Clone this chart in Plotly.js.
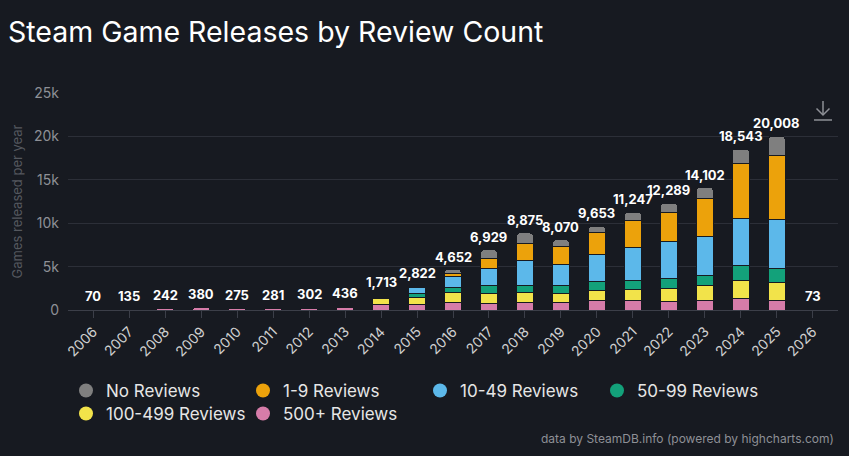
<!DOCTYPE html>
<html>
<head>
<meta charset="utf-8">
<script src="https://cdn.plot.ly/plotly-3.0.1.min.js"></script>
<style>html,body{margin:0;padding:0;background:#171a21;}#chart{width:849px;height:456px;}</style>
</head>
<body>
<div id="chart"></div>
<script>
const years = ["2006","2007","2008","2009","2010","2011","2012","2013","2014","2015","2016","2017","2018","2019","2020","2021","2022","2023","2024","2025","2026"];
const totals = [70,135,242,380,275,281,302,436,1713,2822,4652,6929,8875,8070,9653,11247,12289,14102,18543,20008,73];
const reviews500plus = [45,90,160,250,180,185,195,270,650,680,820,800,840,840,1100,1050,1000,1040,1270,1150,20];
const reviews100to499 = [15,28,50,80,58,58,64,95,620,800,1180,1150,1120,1040,1130,1260,1460,1760,2110,2040,10];
const reviews50to99 = [4,8,14,22,16,17,19,30,170,450,620,900,890,890,1000,1050,1150,1160,1690,1620,8];
const reviews10to49 = [4,6,12,18,14,14,16,28,150,620,1220,1950,2880,2500,3110,3850,4270,4500,5510,5650,15];
const reviews1to9 = [1,2,4,6,4,4,5,8,70,170,400,1100,1880,2030,2580,3150,3390,4340,6260,7340,15];
const noReviews = [1,1,2,4,3,3,3,5,53,102,412,1029,1265,770,733,887,1019,1302,1703,2208,5];
const yTickVals = [0,5000,10000,15000,20000,25000];
const yTickText = ["0","5k","10k","15k","20k","25k"];

const series = [
  {name:"500+ Reviews", data:reviews500plus, color:"#d67ca9", legend:"legend2"},
  {name:"100-499 Reviews", data:reviews100to499, color:"#f2e34a", legend:"legend2"},
  {name:"50-99 Reviews", data:reviews50to99, color:"#13a17a", legend:"legend"},
  {name:"10-49 Reviews", data:reviews10to49, color:"#5cb8ea", legend:"legend"},
  {name:"1-9 Reviews", data:reviews1to9, color:"#eca20b", legend:"legend"},
  {name:"No Reviews", data:noReviews, color:"#7f7f7f", legend:"legend"}
];
const BG = "#171a21";
const FONT = "Inter, 'DejaVu Sans', sans-serif";

const traces = series.map(s => ({
  type:"bar", x:years, y:s.data, name:s.name, showlegend:false,
  marker:{color:s.color, line:{color:BG, width:1}},
  hoverinfo:"x+y+name"
}));
// legend entries (circle symbols), ordered as in the reference
const legendOrder = ["No Reviews","1-9 Reviews","10-49 Reviews","50-99 Reviews","100-499 Reviews","500+ Reviews"];
legendOrder.forEach(n => {
  const s = series.find(q => q.name === n);
  traces.push({type:"scatter", mode:"markers", x:[null], y:[null], name:n, legend:s.legend,
    marker:{color:s.color, size:14, symbol:"circle"}, showlegend:true, hoverinfo:"skip"});
});

const annotations = years.map((yr,i) => ({
  x:i, y:totals[i], xref:"x", yref:"y", text:"<b>"+totals[i].toLocaleString("en-US")+"</b>",
  showarrow:false, yanchor:"bottom", yshift:3,
  font:{family:FONT, size:13, color:"#ffffff"}
}));
annotations.push({
  xref:"paper", yref:"paper", x:0.9974, y:-0.59, xanchor:"right", yanchor:"middle",
  text:"data by SteamDB.info (powered by highcharts.com)", showarrow:false,
  font:{family:FONT, size:12, color:"#8e9096"}
});

const px = v => (v-68)/770, py = v => (310-v)/217;
const iconColor = "#8e9096";
const shapes = [
  {type:"line", xref:"paper", yref:"paper", x0:px(823), x1:px(823), y0:py(101), y1:py(115), line:{color:iconColor, width:1.5}},
  {type:"path", xref:"paper", yref:"paper", path:`M ${px(816.5)} ${py(108.5)} L ${px(823)} ${py(115)} L ${px(829.5)} ${py(108.5)}`, line:{color:iconColor, width:1.5}},
  {type:"line", xref:"paper", yref:"paper", x0:px(814), x1:px(832), y0:py(120), y1:py(120), line:{color:iconColor, width:1.5}}
];

const legendCommon = {orientation:"h", xref:"container", yref:"container", xanchor:"left", yanchor:"middle",
  traceorder:"normal",
  bgcolor:"rgba(0,0,0,0)", font:{family:FONT, size:17, color:"#e6e6e6"},
  entrywidth:132, entrywidthmode:"pixels", itemwidth:30, tracegroupgap:0, itemclick:false, itemdoubleclick:false};

const layout = {
  width:849, height:456,
  paper_bgcolor:BG, plot_bgcolor:BG,
  margin:{l:68, r:11, t:93, b:146, pad:0},
  font:{family:FONT, color:"#cccccc"},
  title:{text:"Steam Game Releases by Review Count", xref:"container", yref:"container", x:8/849, xanchor:"left", y:1-32/456, yanchor:"middle",
    font:{family:FONT, size:28.5, color:"#ffffff"}},
  barmode:"stack", bargap:0.54, barcornerradius:3,
  xaxis:{type:"category", categoryorder:"array", categoryarray:years, range:[-0.7,20.7], fixedrange:true,
    tickangle:-45, tickfont:{family:FONT, size:14, color:"#d0d0d0"},
    ticks:"outside", ticklen:7, tickcolor:"#3c3f49", tickwidth:1,
    showline:true, linecolor:"#3c3f49", linewidth:1, showgrid:false, zeroline:false},
  yaxis:{range:[0,25000], tickvals:yTickVals, ticktext:yTickText, fixedrange:true,
    tickfont:{family:FONT, size:14, color:"#8e9096"}, ticks:"", ticklabelstandoff:8,
    showgrid:true, gridcolor:"#2c2f38", gridwidth:1, zeroline:false, showline:false,
    title:{text:"Games released per year", standoff:8, font:{family:FONT, size:13, color:"#55585f"}}},
  legend:Object.assign({}, legendCommon, {x:66/849, y:1-391/456}),
  legend2:Object.assign({}, legendCommon, {x:66/849, y:1-414/456}),
  annotations:annotations,
  shapes:shapes,
  showlegend:true
};
Plotly.newPlot("chart", traces, layout, {displayModeBar:false, staticPlot:true});
</script>
</body>
</html>
